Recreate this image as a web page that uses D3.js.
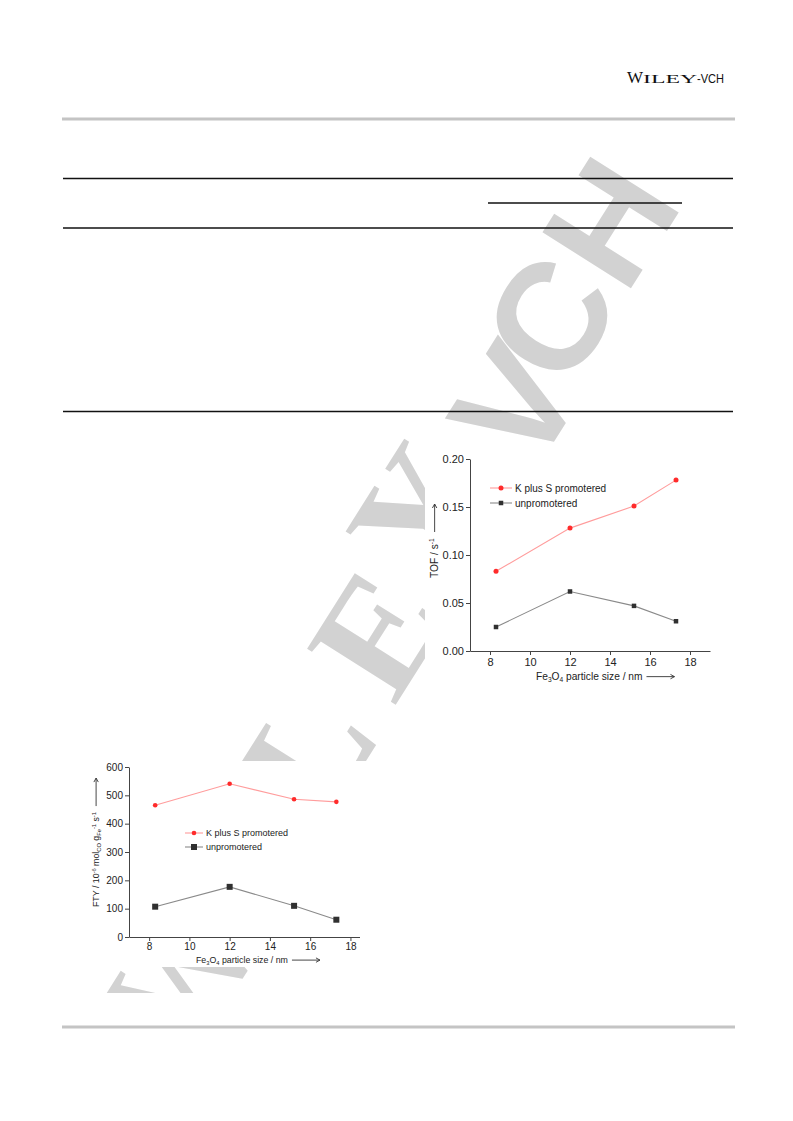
<!DOCTYPE html>
<html><head><meta charset="utf-8">
<script src="https://cdn.jsdelivr.net/npm/d3@7/dist/d3.min.js"></script>
<style>body{margin:0;background:#fff}svg{display:block}</style>
</head><body>
<svg id="page" width="793" height="1121"></svg>
<script>
// ---- data ----
const particleSizes = [8.3, 12, 15.2, 17.3];
const tofPromoted = [0.083, 0.128, 0.151, 0.178];
const tofUnpromoted = [0.025, 0.062, 0.047, 0.031];
const ftyPromoted = [465, 541, 486, 477];
const ftyUnpromoted = [107, 177, 110, 61];
const xTicks = [8, 10, 12, 14, 16, 18];
const tofTicks = [0, 0.05, 0.10, 0.15, 0.20];
const ftyTicks = [0, 100, 200, 300, 400, 500, 600];
const seriesNames = ["K plus S promotered", "unpromotered"];
const watermarkLetters = ["W", "I", "L", "E", "Y", "-", "V", "C", "H"];

const svg = d3.select("#page");
const SANS = "'Liberation Sans', Arial, sans-serif";
const SERIF = "'Liberation Serif', 'Times New Roman', serif";

// ---- watermark (decorative) ----
svg.append("defs").append("clipPath").attr("id", "wmclip")
  .append("rect").attr("x", 0).attr("y", 0).attr("width", 793).attr("height", 993);
const wm = svg.append("g").attr("fill", "#d2d2d2").attr("clip-path", "url(#wmclip)");
const wmCenters = [[180, 972], [245, 857], [307, 753], [377, 633], [418, 512], [472, 462], [515, 404], [550, 318], [610, 222]];
watermarkLetters.forEach((ch, i) => {
  const [cx, cy] = wmCenters[i];
  const serif = i < 5;
  wm.append("text")
    .attr("transform", `translate(${cx},${cy}) rotate(-57.7)`)
    .attr("text-anchor", "middle")
    .attr("dominant-baseline", "central")
    .attr("font-family", serif ? SERIF : SANS)
    .attr("font-weight", "bold")
    .attr("font-size", serif ? 160 : 152)
    .text(ch);
});

// ---- header ----
const logo = svg.append("text").attr("x", 627).attr("y", 83).attr("fill", "#111");
logo.append("tspan").attr("font-family", SERIF).attr("font-size", 17).text("W");
logo.append("tspan").attr("font-family", SERIF).attr("font-size", 13.5)
  .attr("textLength", 54).attr("lengthAdjust", "spacingAndGlyphs").text("ILEY");
logo.append("tspan").attr("font-family", SANS).attr("font-size", 13)
  .attr("textLength", 27).attr("lengthAdjust", "spacingAndGlyphs").text("-VCH");

svg.append("line").attr("x1", 62).attr("x2", 735).attr("y1", 119).attr("y2", 119)
  .attr("stroke", "#c4c4c4").attr("stroke-width", 3);
svg.append("line").attr("x1", 62).attr("x2", 735).attr("y1", 1027).attr("y2", 1027)
  .attr("stroke", "#c4c4c4").attr("stroke-width", 3);

// ---- table rules ----
[[63, 733, 178.5], [488, 682, 203], [63, 733, 228], [63, 733, 411.5]].forEach(([a, b, yy]) => {
  svg.append("line").attr("x1", a).attr("x2", b).attr("y1", yy).attr("y2", yy)
    .attr("stroke", "#111").attr("stroke-width", 1.4);
});

// ---- chart image backgrounds ----
svg.append("rect").attr("x", 425).attr("y", 445).attr("width", 295).attr("height", 245).attr("fill", "#fff");
svg.append("rect").attr("x", 75).attr("y", 761).attr("width", 297).attr("height", 206).attr("fill", "#fff");

function arrow(g, x1, y1, x2, y2) {
  g.append("line").attr("x1", x1).attr("y1", y1).attr("x2", x2).attr("y2", y2)
    .attr("stroke", "#333").attr("stroke-width", 0.9);
  const ang = Math.atan2(y2 - y1, x2 - x1);
  const L = 4, W = 2.2;
  const p = [[x2, y2],
    [x2 - L * Math.cos(ang) + W * Math.sin(ang), y2 - L * Math.sin(ang) - W * Math.cos(ang)],
    [x2 - L * Math.cos(ang) - W * Math.sin(ang), y2 - L * Math.sin(ang) + W * Math.cos(ang)]];
  g.append("path").attr("d", `M${p[1]}L${p[0]}L${p[2]}`).attr("fill", "none")
    .attr("stroke", "#333").attr("stroke-width", 0.9);
}

function drawChart(o) {
  const g = svg.append("g");
  const x = d3.scaleLinear().domain(o.xDomain).range(o.xRange);
  const y = d3.scaleLinear().domain(o.yDomain).range(o.yRange);

  const xa = g.append("g").attr("transform", `translate(0,${o.yRange[0]})`)
    .call(d3.axisBottom(x).tickValues(xTicks).tickSize(4).tickPadding(o.xPad).tickSizeOuter(0).tickFormat(d3.format("d")));
  const ya = g.append("g").attr("transform", `translate(${o.xRange[0]},0)`)
    .call(d3.axisLeft(y).tickValues(o.yTicks).tickSize(4).tickPadding(2).tickSizeOuter(0).tickFormat(o.yFormat));
  [xa, ya].forEach(a => {
    a.select(".domain").attr("stroke", "#444").attr("stroke-width", 1);
    a.selectAll(".tick line").attr("stroke", "#444");
    a.selectAll("text").attr("font-family", SANS).attr("font-size", o.tickFont).attr("fill", "#222");
  });

  const series = [
    {vals: o.promoted, line: "#ff9c9c", mark: "#ff2b2b", shape: "circle"},
    {vals: o.unpromoted, line: "#8a8a8a", mark: "#303030", shape: "square"}
  ];
  const lineGen = d3.line().x(d => x(d[0])).y(d => y(d[1]));
  series.forEach(s => {
    const pts = particleSizes.map((p, i) => [p, s.vals[i]]);
    g.append("path").attr("d", lineGen(pts)).attr("fill", "none").attr("stroke", s.line).attr("stroke-width", 1.1);
    pts.forEach(p => marker(g, s, x(p[0]), y(p[1])));
  });

  function marker(gg, s, cx, cy) {
    if (s.shape === "circle") gg.append("circle").attr("cx", cx).attr("cy", cy).attr("r", o.r).attr("fill", s.mark);
    else gg.append("rect").attr("x", cx - o.sq / 2).attr("y", cy - o.sq / 2).attr("width", o.sq).attr("height", o.sq).attr("fill", s.mark);
  }

  // legend
  series.forEach((s, i) => {
    const ly = o.legY[i];
    g.append("line").attr("x1", o.legX[0]).attr("x2", o.legX[1]).attr("y1", ly).attr("y2", ly)
      .attr("stroke", s.line).attr("stroke-width", 1.1);
    marker(g, s, (o.legX[0] + o.legX[1]) / 2, ly);
    g.append("text").attr("x", o.legX[1] + 3).attr("y", ly + o.legFont * 0.36)
      .attr("font-family", SANS).attr("font-size", o.legFont).attr("fill", "#222").text(seriesNames[i]);
  });

  // x label
  const xl = g.append("text").attr("x", o.xLab[0]).attr("y", o.xLab[1])
    .attr("font-family", SANS).attr("font-size", o.labFont).attr("fill", "#222");
  xl.append("tspan").text("Fe");
  xl.append("tspan").attr("font-size", o.labFont * 0.65).attr("dy", 2).text("3");
  xl.append("tspan").attr("dy", -2).text("O");
  xl.append("tspan").attr("font-size", o.labFont * 0.65).attr("dy", 2).text("4");
  xl.append("tspan").attr("dy", -2).text(" particle size / nm");
  const bb = xl.node().getBBox();
  arrow(g, bb.x + bb.width + 4, o.xLab[1] - o.labFont * 0.33, bb.x + bb.width + o.arrowLen, o.xLab[1] - o.labFont * 0.33);

  // y label
  const yl = g.append("text").attr("transform", `translate(${o.yLab[0]},${o.yLab[1]}) rotate(-90)`)
    .attr("font-family", SANS).attr("font-size", o.labFont).attr("fill", "#222");
  o.yLabelParts(yl, o.labFont);
  const yb = yl.node().getBBox();
  const ay = o.yLab[1] - yb.width - 6;
  arrow(g, o.yLab[0] - o.labFont * 0.33, ay, o.yLab[0] - o.labFont * 0.33, ay - o.arrowLen + 4);
}

drawChart({
  xDomain: [7, 19], xRange: [470, 710],
  yDomain: [0, 0.2], yRange: [651, 459],
  yTicks: tofTicks, yFormat: d3.format(".2f"),
  promoted: tofPromoted, unpromoted: tofUnpromoted,
  tickFont: 11, legFont: 10, labFont: 10.2, xPad: 3,
  r: 2.5, sq: 4.5,
  legX: [490, 512], legY: [488, 503],
  xLab: [536, 680], arrowLen: 32,
  yLab: [438, 578],
  yLabelParts: (t, f) => {
    t.append("tspan").text("TOF / s");
    t.append("tspan").attr("font-size", f * 0.65).attr("dy", -4).text("-1");
  }
});

drawChart({
  xDomain: [7, 18.45], xRange: [129, 359.5],
  yDomain: [0, 600], yRange: [937, 767],
  yTicks: ftyTicks, yFormat: d3.format("d"),
  promoted: ftyPromoted, unpromoted: ftyUnpromoted,
  tickFont: 10, legFont: 9, labFont: 8.8, xPad: 2,
  r: 2.3, sq: 6,
  legX: [185, 203], legY: [833, 847],
  xLab: [196, 963], arrowLen: 32,
  yLab: [99, 907],
  yLabelParts: (t, f) => {
    const s = f * 0.65;
    t.append("tspan").text("FTY / 10");
    t.append("tspan").attr("font-size", s).attr("dy", -3.5).text("-6");
    t.append("tspan").attr("dy", 3.5).text(" mol");
    t.append("tspan").attr("font-size", s).attr("dy", 2).text("CO");
    t.append("tspan").attr("dy", -2).text(" g");
    t.append("tspan").attr("font-size", s).attr("dy", 2).text("Fe");
    t.append("tspan").attr("font-size", s).attr("dy", -5.5).text("-1");
    t.append("tspan").attr("dy", 3.5).text(" s");
    t.append("tspan").attr("font-size", s).attr("dy", -3.5).text("-1");
  }
});
</script>
</body></html>
